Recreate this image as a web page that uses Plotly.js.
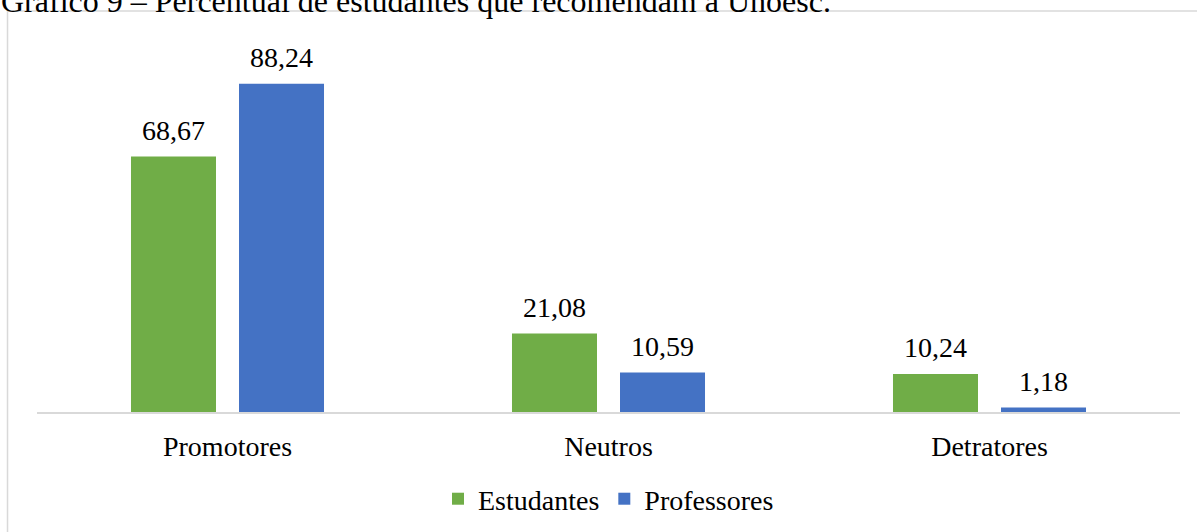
<!DOCTYPE html>
<html>
<head>
<meta charset="utf-8">
<script src="https://cdn.plot.ly/plotly-3.0.1.min.js"></script>
<style>
html,body{margin:0;padding:0;background:#fff;}
#chart{width:1197px;height:532px;}
</style>
</head>
<body>
<div id="chart"></div>
<script>
var categories = ["Promotores", "Neutros", "Detratores"];
var estudantes = [68.67, 21.08, 10.24];
var professores = [88.24, 10.59, 1.18];
var seriesNames = ["Estudantes", "Professores"];
var titleText = "Gráfico 9 – Percentual de estudantes que recomendam a Unoesc.";

var FONT = "Liberation Serif";
var colors = ["#70AD47", "#4472C4"];

function fmt(v){ return v.toFixed(2).replace('.', ','); }

var traces = [
  {type:'bar', name:seriesNames[0], x:categories, y:estudantes, marker:{color:colors[0]}, hoverinfo:'none'},
  {type:'bar', name:seriesNames[1], x:categories, y:professores, marker:{color:colors[1]}, hoverinfo:'none'}
];

var annotations = [];
[estudantes, professores].forEach(function(arr, si){
  arr.forEach(function(v, i){
    annotations.push({
      x: categories[i], y: v, xref:'x', yref:'y',
      text: fmt(v), showarrow:false, yanchor:'bottom',
      xshift: si === 0 ? -54 : 54, yshift: 10, borderpad:0,
      font:{family:FONT, size:28, color:'#000'}
    });
  });
});
annotations.push({
  xref:'paper', yref:'paper', x:-0.0324, y:1.055, xanchor:'left', yanchor:'bottom',
  text:titleText, showarrow:false, borderpad:0,
  font:{family:FONT, size:32, color:'#000'}
});

var layout = {
  width:1197, height:532,
  margin:{l:37, r:17, t:40, b:120},
  paper_bgcolor:'#fff', plot_bgcolor:'#fff',
  barmode:'group', bargap:0.433, bargroupgap:0.213,
  showlegend:true,
  legend:{orientation:'h', x:0.5, xanchor:'center', yref:'container', y:0.062, yanchor:'middle',
          font:{family:FONT, size:28, color:'#000'}, itemwidth:30, traceorder:'normal'},
  xaxis:{type:'category', showline:true, linecolor:'#d9d9d9', linewidth:1.5,
         ticks:'', showgrid:false, zeroline:false, ticklabelstandoff:9,
         tickfont:{family:FONT, size:28, color:'#000'}},
  yaxis:{range:[0,100], visible:false, showgrid:false, zeroline:false},
  shapes:[{type:'rect', xref:'paper', yref:'paper', x0:-0.0258, x1:1.1, y0:-0.5, y1:1.078,
           line:{color:'#d9d9d9', width:1.5}, layer:'below'}],
  annotations:annotations
};

Plotly.newPlot('chart', traces, layout, {displayModeBar:false, staticPlot:true});
</script>
</body>
</html>
